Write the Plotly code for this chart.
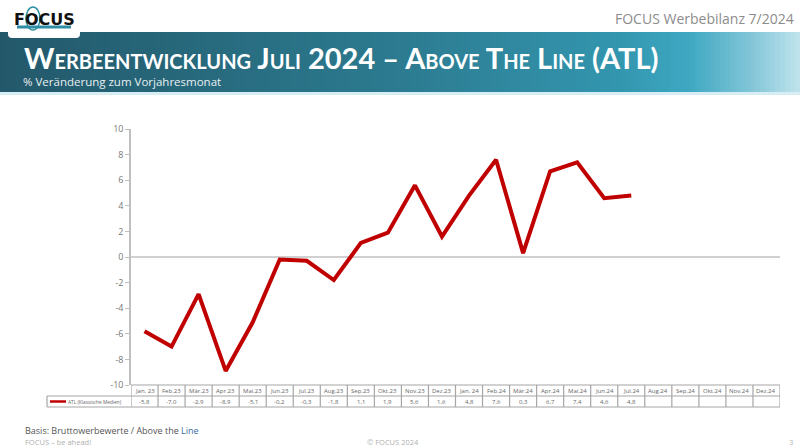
import plotly.graph_objects as go

months = ["Jan. 23", "Feb.23", "Mär.23", "Apr.23", "Mai.23", "Jun.23", "Jul.23", "Aug.23",
          "Sep.23", "Okt.23", "Nov.23", "Dez.23", "Jan. 24", "Feb.24", "Mär.24", "Apr.24",
          "Mai.24", "Jun.24", "Jul.24", "Aug.24", "Sep.24", "Okt.24", "Nov.24", "Dez.24"]
atl_values = [-5.8, -7.0, -2.9, -8.9, -5.1, -0.2, -0.3, -1.8, 1.1, 1.9, 5.6, 1.6,
              4.8, 7.6, 0.3, 6.7, 7.4, 4.6, 4.8]
series_name = "ATL (Klassische Medien)"
y_ticks = [-10, -8, -6, -4, -2, 0, 2, 4, 6, 8, 10]

W, H = 800, 448
L, R, T, B = 131, 780, 129, 385


def px(x):
    return (x - L) / (R - L)


def py(y):
    return (B - y) / (B - T)


def hexc(c):
    return tuple(int(c[i:i + 2], 16) for i in (1, 3, 5))


stops = [(0, "#23586a"), (400, "#2c7b90"), (620, "#3396af"), (690, "#3fa8c2"), (760, "#8ccadb"), (800, "#c0e4ed")]


def grad(x):
    for (x0, c0), (x1, c1) in zip(stops[:-1], stops[1:]):
        if x0 <= x <= x1:
            t = (x - x0) / (x1 - x0)
            a, b = hexc(c0), hexc(c1)
            return "rgb(%d,%d,%d)" % tuple(round(a[i] + (b[i] - a[i]) * t) for i in range(3))
    return stops[-1][1]


x_idx = list(range(len(atl_values)))
fig = go.Figure()
fig.add_trace(go.Scatter(x=x_idx, y=atl_values, mode="lines",
                         line=dict(color="#c00000", width=4), name=series_name,
                         showlegend=False, hoverinfo="skip"))

shapes = []
# header gradient bar
step = 5
for xs in range(0, 800, step):
    shapes.append(dict(type="rect", xref="paper", yref="paper", x0=px(xs), x1=px(xs + step + 0.5),
                       y0=py(92), y1=py(32), fillcolor=grad(xs + step / 2), line=dict(width=0), layer="below"))
shapes.append(dict(type="rect", xref="paper", yref="paper", x0=px(0), x1=px(800), y0=py(95), y1=py(92),
                   fillcolor="#d6edf3", line=dict(width=0), layer="below"))
# logo box
shapes.append(dict(type="path", xref="paper", yref="paper",
                   path="M %f,%f L %f,%f L %f,%f Q %f,%f %f,%f L %f,%f Q %f,%f %f,%f Z" % (
                       px(8), py(0), px(80), py(0), px(80), py(34), px(80), py(38), px(76), py(38),
                       px(12), py(38), px(8), py(38), px(8), py(34)),
                   fillcolor="white", line=dict(width=0)))
shapes.append(dict(type="circle", xref="paper", yref="paper", x0=px(26), x1=px(40), y0=py(30), y1=py(7),
                   fillcolor="rgba(0,0,0,0)", line=dict(color="#2f8ea3", width=1.5)))
shapes.append(dict(type="rect", xref="paper", yref="paper", x0=px(17), x1=px(71), y0=py(28.5), y1=py(25.5),
                   fillcolor="#2f8ea3", line=dict(width=0)))

grey = "#a6a6a6"
n = len(months)
# table lines
for yy in (385, 396, 407):
    shapes.append(dict(type="line", xref="paper", yref="paper", x0=0, x1=1, y0=py(yy), y1=py(yy),
                       line=dict(color=grey, width=1.2)))
for i in range(n + 1):
    shapes.append(dict(type="line", xref="x", yref="paper", x0=i - 0.5, x1=i - 0.5, y0=py(385), y1=py(407),
                       line=dict(color=grey, width=1.2)))
# legend cell
for yy in (396, 407):
    shapes.append(dict(type="line", xref="paper", yref="paper", x0=px(47), x1=0, y0=py(yy), y1=py(yy),
                       line=dict(color=grey, width=1.2)))
shapes.append(dict(type="line", xref="paper", yref="paper", x0=px(47), x1=px(47), y0=py(396), y1=py(407),
                   line=dict(color=grey, width=1.2)))
shapes.append(dict(type="line", xref="paper", yref="paper", x0=px(50), x1=px(66), y0=py(401.5), y1=py(401.5),
                   line=dict(color="#c00000", width=2.5)))
# zero line
shapes.append(dict(type="line", xref="paper", yref="y", x0=0, x1=1, y0=0, y1=0,
                   line=dict(color="#a0a0a0", width=1), layer="below"))

ann = []
for i, m in enumerate(months):
    ann.append(dict(x=i, y=py(390.5), xref="x", yref="paper", text=m, showarrow=False,
                    font=dict(size=6, color="#666", family="Open Sans"), xanchor="center", yanchor="middle"))
for i, v in enumerate(atl_values):
    ann.append(dict(x=i, y=py(401.5), xref="x", yref="paper", text=("%.1f" % v).replace(".", ","),
                    showarrow=False, font=dict(size=6, color="#666", family="Open Sans"),
                    xanchor="center", yanchor="middle"))
ann.append(dict(x=px(66), y=py(401.5), xref="paper", yref="paper", text=series_name, showarrow=False,
                font=dict(size=4.8, color="#666", family="Open Sans"), xanchor="left", yanchor="middle"))

# header texts
ann.append(dict(x=px(22), y=py(57), xref="paper", yref="paper", text="<b>Werbeentwicklung Juli 2024 – Above The Line (ATL)</b>",
                showarrow=False, xanchor="left", yanchor="middle",
                font=dict(size=29, color="white", family="Lato", variant="small-caps")))
ann.append(dict(x=px(21), y=py(81), xref="paper", yref="paper", text="% Veränderung zum Vorjahresmonat",
                showarrow=False, xanchor="left", yanchor="middle",
                font=dict(size=11.5, color="#e8f0f2", family="Open Sans")))
ann.append(dict(x=px(796), y=py(18), xref="paper", yref="paper", text="FOCUS Werbebilanz 7/2024",
                showarrow=False, xanchor="right", yanchor="middle",
                font=dict(size=14, color="#8c8c8c", family="Open Sans")))
ann.append(dict(x=px(44), y=py(19), xref="paper", yref="paper", text="<b>FOCUS</b>",
                showarrow=False, xanchor="center", yanchor="middle",
                font=dict(size=16, color="#111", family="DejaVu Sans")))
# footer
ann.append(dict(x=px(23), y=py(430), xref="paper", yref="paper",
                text="Basis: Bruttowerbewerte / Above the <span style='color:#3a6ea5'>Line</span>",
                showarrow=False, xanchor="left", yanchor="middle",
                font=dict(size=9, color="#555", family="Open Sans")))
ann.append(dict(x=px(23), y=py(442), xref="paper", yref="paper", text="FOCUS – be ahead!",
                showarrow=False, xanchor="left", yanchor="middle",
                font=dict(size=7.5, color="#b0b0b0", family="Open Sans")))
ann.append(dict(x=px(393), y=py(442), xref="paper", yref="paper", text="© FOCUS 2024",
                showarrow=False, xanchor="center", yanchor="middle",
                font=dict(size=7.5, color="#b0b0b0", family="Open Sans")))
ann.append(dict(x=px(791), y=py(442), xref="paper", yref="paper", text="3",
                showarrow=False, xanchor="center", yanchor="middle",
                font=dict(size=7.5, color="#b0b0b0", family="Open Sans")))

fig.update_layout(
    width=W, height=H, margin=dict(l=L, r=W - R, t=T, b=H - B),
    paper_bgcolor="white", plot_bgcolor="white",
    shapes=shapes, annotations=ann,
    xaxis=dict(range=[-0.5, n - 0.5], showticklabels=False, showgrid=False, zeroline=False,
               ticks="", showline=False, fixedrange=True),
    yaxis=dict(range=[-10, 10], tickvals=y_ticks, ticktext=[str(t) for t in y_ticks],
               showgrid=False, zeroline=False, showline=True, linecolor="#bfbfbf", linewidth=1.5,
               ticks="outside", ticklen=4, tickcolor="#bfbfbf",
               tickfont=dict(size=9, color="#777", family="Open Sans")),
)
fig.write_html("out.html", config={"displayModeBar": False},
               post_script="document.body.style.margin='0';document.body.style.overflow='hidden';")
